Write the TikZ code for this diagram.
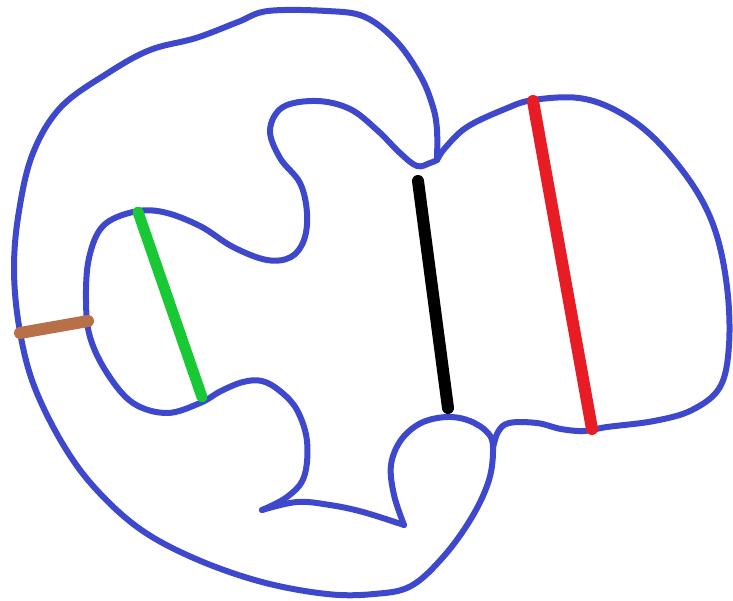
\documentclass[tikz,border=0pt]{standalone}
\definecolor{pen}{RGB}{62,72,205}
\definecolor{penred}{RGB}{232,28,36}
\definecolor{pengreen}{RGB}{24,200,52}
\definecolor{penbrown}{RGB}{184,112,72}
\tikzset{outline/.style={draw=pen,line width=6pt,line cap=round,line join=round},
  bar/.style={line width=12pt,line cap=round}}
\begin{document}
\begin{tikzpicture}[x=1pt,y=-1pt]
\useasboundingbox (0,0) rectangle (733,600);
% outer curve and small bottom bulb
\draw[outline] plot[smooth,tension=0.6] coordinates {(437,160) (437,130) (433,107) (421,77) (397,42) (365,17) (327,11) (268,11) (238,22) (196,38) (150,50) (108,73) (61,107) (33,153) (19,211) (14,268) (19,326) (33,383) (61,441) (94,487) (140,529) (196,559) (262,582) (327,594) (374,594) (411,586) (444,556) (472,517) (489,480) (493,448) (488,433) (470,421) (447,417) (421,423) (401,440) (391,465) (394,495) (404,525)};
\draw[outline] plot[smooth,tension=0.6] coordinates {(404,525) (363,512) (330,505) (297,502) (262,510)};
\draw[outline] plot[smooth,tension=0.6] coordinates {(262,510) (287,497) (304,477) (307,441) (297,410) (280,391) (262,381) (243,382) (221,391) (200,403) (167,413) (133,403) (107,373) (90,337) (86,300) (89,258) (103,226) (133,212) (163,212) (200,226) (233,247) (267,260) (291,257) (304,240) (307,213) (300,183) (280,158) (270,130) (283,107) (317,101) (350,109) (377,130) (400,153) (417,166) (430,163) (437,160)};
% right lobe
\draw[outline] plot[smooth,tension=0.6] coordinates {(437,160) (445,148) (467,127) (505,109) (533,100) (579,98) (617,111) (654,138) (692,184) (715,230) (727,287) (729,345) (720,387) (692,410) (654,421) (607,427) (584,431) (561,429) (537,423) (509,423) (498,432) (493,448)};
% bars
\draw[bar,penbrown] (20,333) -- (88,321);
\draw[bar,pengreen,line width=11pt] (138,212) -- (202,397);
\draw[bar,black] (418,181) -- (448,408);
\draw[bar,penred] (533,101) -- (592,429);
\end{tikzpicture}
\end{document}
